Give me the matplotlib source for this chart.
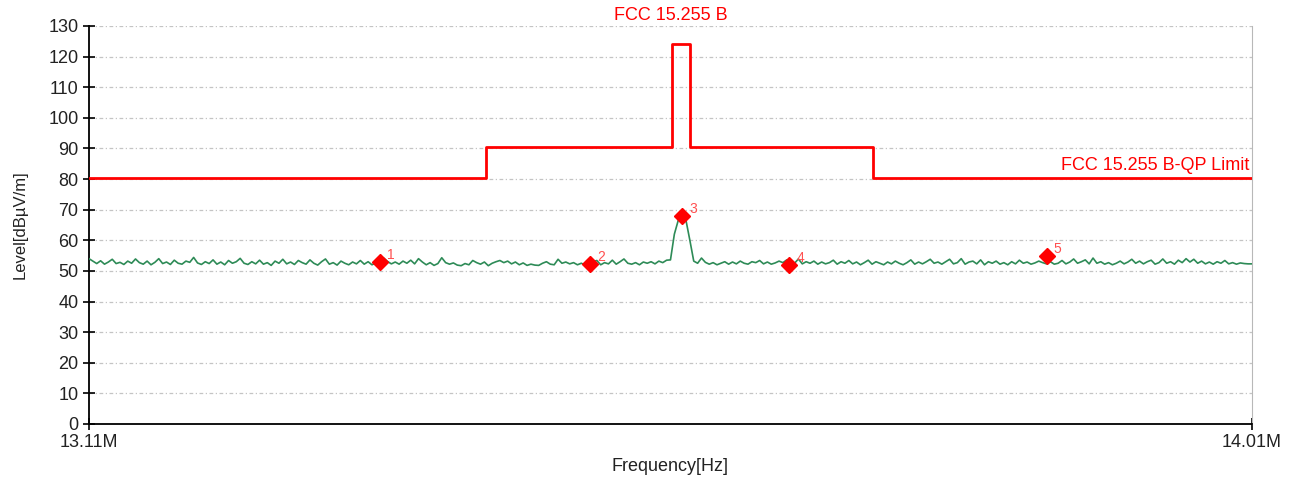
import numpy as np
import matplotlib
matplotlib.use("Agg")
import matplotlib.pyplot as plt

plt.rcParams['font.family'] = ['Liberation Sans', 'DejaVu Sans']

# limit line (MHz, dBuV/m)
limit_f = [13.11, 13.417, 13.417, 13.561, 13.561, 13.575, 13.575, 13.717, 13.717, 14.01]
limit_v = [80.5, 80.5, 90.5, 90.5, 124.0, 124.0, 90.5, 90.5, 80.5, 80.5]

# measured trace, 3 kHz steps from 13.11 MHz
f_start = 13.11
f_step = 0.003
trace = [
    54.0, 53.2, 52.4, 53.3, 52.2, 52.9, 53.8, 52.4, 52.8, 52.1, 53.2, 52.5, 53.9, 52.7, 52.2, 53.2, 52.0, 52.8, 54.0, 52.4,
    52.9, 52.1, 53.5, 52.5, 52.2, 53.2, 52.8, 54.4, 52.6, 52.1, 53.0, 52.4, 53.6, 52.2, 52.9, 52.0, 53.4, 52.5, 53.0, 54.1,
    52.5, 52.1, 53.0, 52.3, 53.5, 52.2, 52.7, 51.8, 53.2, 52.5, 53.8, 52.3, 52.9, 52.1, 53.4, 52.7, 52.2, 53.6, 52.5, 51.9,
    53.0, 53.9, 52.2, 52.7, 51.9, 53.2, 52.5, 52.0, 52.9, 52.3, 53.4, 52.2, 53.0, 52.0, 52.6, 52.2, 54.2, 53.1, 52.3, 52.9,
    52.2, 53.2, 52.5, 53.5, 52.3, 54.0, 52.9, 52.0, 52.7, 51.8, 52.4, 54.3, 52.7, 52.2, 52.6, 51.9, 51.7, 52.4, 52.0, 53.4,
    52.7, 52.2, 52.9, 51.7, 52.5, 53.0, 53.4, 52.7, 53.2, 52.3, 52.9, 52.0, 52.6, 51.8, 52.2, 51.9, 51.8, 52.5, 53.0, 52.2,
    52.0, 53.8, 52.5, 52.9, 52.3, 52.7, 52.0, 52.5, 51.9, 52.2, 53.0, 53.4, 52.0, 52.7, 52.3, 53.5, 52.2, 53.0, 53.9, 52.5,
    52.2, 52.7, 52.0, 52.9, 52.5, 53.0, 52.3, 53.2, 52.7, 53.5, 53.6, 62.0, 66.5, 68.0, 66.5, 60.0, 53.2, 52.5, 54.2, 52.8,
    52.2, 52.7, 52.0, 52.5, 53.0, 52.2, 52.9, 52.3, 53.2, 52.5, 52.2, 53.0, 52.7, 53.4, 52.3, 52.9, 52.2, 52.6, 53.2, 52.7,
    53.6, 51.9, 52.5, 53.9, 52.3, 53.0, 52.5, 53.2, 52.2, 52.9, 52.3, 52.7, 53.5, 52.2, 53.0, 52.5, 53.4, 52.3, 52.9, 52.0,
    52.7, 53.5, 52.2, 53.0, 52.5, 52.0, 52.9, 52.3, 53.2, 52.5, 52.0, 52.7, 53.6, 52.2, 52.9, 52.3, 53.0, 53.8, 52.5, 52.9,
    52.2, 53.0, 53.8, 52.3, 52.7, 54.0, 52.2, 52.9, 53.2, 52.3, 53.6, 52.0, 53.0, 52.5, 53.2, 52.2, 52.7, 52.0, 53.0, 52.3,
    53.5, 52.5, 52.9, 52.2, 52.6, 53.2, 52.7, 52.3, 53.0, 52.2, 52.5, 53.4, 52.3, 52.9, 53.9, 52.5, 53.0, 53.6, 52.3, 54.2,
    52.5, 53.0, 52.2, 52.7, 52.0, 52.5, 53.2, 52.3, 52.9, 53.8, 52.5, 53.2, 52.3, 53.0, 53.5, 52.2, 52.7, 53.9, 52.5, 53.0,
    52.2, 53.5, 52.7, 54.0, 52.9, 53.8, 52.5, 53.2, 52.3, 52.9, 52.2, 53.0, 52.5, 53.4, 52.3, 52.7, 52.2, 52.6, 52.4, 52.3,
    52.3,
]

# markers
marker_f = [13.335, 13.498, 13.569, 13.652, 13.851]
marker_v = [52.9, 52.3, 68.0, 52.0, 54.9]
marker_lbl = ['1', '2', '3', '4', '5']

y_ticks = list(range(0, 131, 10))
x_ticks = [13.11, 14.01]
x_tick_lbl = ['13.11M', '14.01M']

trace_f = f_start + f_step * np.arange(len(trace))

fig = plt.figure(figsize=(12.99, 4.83), dpi=100)
ax = fig.add_axes([0.0685, 0.1222, 0.8953, 0.824])

ax.plot(trace_f, trace, color='#2e8b57', lw=1.2, zorder=3)
ax.plot(limit_f, limit_v, color='#ff0000', lw=2, zorder=4)
ax.plot(marker_f, marker_v, 'D', color='#ff0000', ms=8, zorder=5, ls='none')
for f, v, t in zip(marker_f, marker_v, marker_lbl):
    ax.annotate(t, (f, v), xytext=(5, 2), textcoords='offset points',
                color='#ff5050', fontsize=10)

ax.set_xlim(13.11, 14.01)
ax.set_ylim(0, 130)
ax.set_yticks(y_ticks)
ax.set_xticks(x_ticks)
ax.set_xticklabels(x_tick_lbl)
ax.tick_params(axis='both', direction='inout', length=9, width=1.2, labelsize=13,
               labelcolor='#222222')
ax.tick_params(axis='x', pad=3)
ax.tick_params(axis='y', pad=3)
ax.grid(axis='y', color='#c4c4c4', lw=0.9, ls=(0, (3, 2, 1, 2)))

ax.spines['top'].set_visible(False)
ax.spines['right'].set_color('#b8b8b8')
ax.spines['left'].set_linewidth(1.3)
ax.spines['bottom'].set_linewidth(1.3)

ax.set_ylabel('Level[dBµV/m]', fontsize=12, color='#222222', labelpad=15)
ax.set_xlabel('Frequency[Hz]', fontsize=13, color='#222222', labelpad=5)
ax.set_title('FCC 15.255 B', color='#ff0000', fontsize=13, pad=4)
ax.text(14.008, 81.5, 'FCC 15.255 B-QP Limit', color='#ff0000', fontsize=13,
        ha='right', va='bottom')

fig.savefig('out.png', dpi=100)
